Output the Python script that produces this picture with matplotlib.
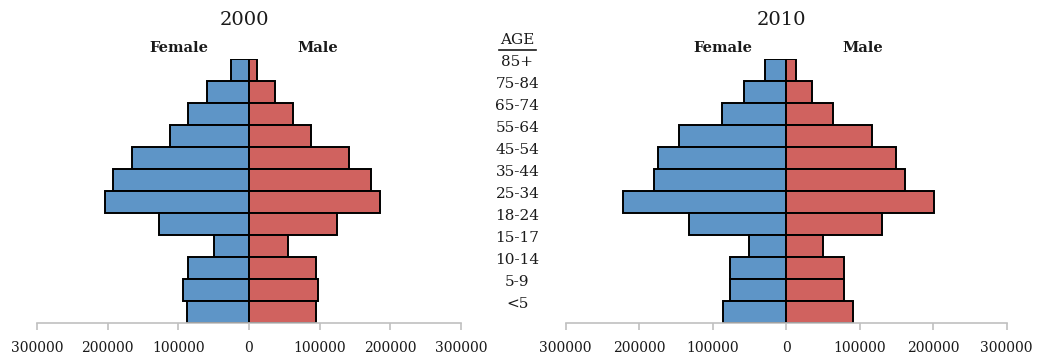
import matplotlib
matplotlib.use("Agg")
import numpy as np
from matplotlib import pyplot as plt
from matplotlib.lines import Line2D
from matplotlib.transforms import blended_transform_factory

AGE_GROUPS = ["85+", "75-84", "65-74", "55-64", "45-54", "35-44",
              "25-34", "18-24", "15-17", "10-14", "5-9", "<5"]

FEMALE_2000 = [26000, 60000, 87000, 112000, 165000, 193000,
               204000, 127000, 50000, 87000, 93000, 88000]
MALE_2000 = [11000, 37000, 62000, 88000, 141000, 173000,
             185000, 125000, 55000, 95000, 97000, 95000]

FEMALE_2010 = [29000, 58000, 88000, 146000, 175000, 180000,
               222000, 132000, 51000, 77000, 77000, 86000]
MALE_2010 = [13000, 35000, 63000, 117000, 149000, 162000,
             201000, 131000, 50000, 79000, 79000, 91000]

TICKS = [-300000, -200000, -100000, 0, 100000, 200000, 300000]
TICK_LABELS = ["300000", "200000", "100000", "0", "100000", "200000", "300000"]

BLUE = "#5e95c7"
RED = "#d0625f"
FONT = "DejaVu Serif"
TEXT_COLOR = "#1a1a1a"


def draw_pyramid(ax, female, male):
    y = np.arange(len(AGE_GROUPS))[::-1]
    ax.barh(y, -np.array(female), height=1.0, color=BLUE,
            edgecolor="black", linewidth=1.4)
    ax.barh(y, male, height=1.0, color=RED,
            edgecolor="black", linewidth=1.4)
    ax.set_xlim(-300000, 300000)
    ax.set_ylim(-0.5, len(AGE_GROUPS) - 0.5)
    ax.set_xticks(TICKS)
    ax.set_xticklabels(TICK_LABELS, fontfamily=FONT, fontsize=10,
                       color=TEXT_COLOR)
    ax.set_yticks([])
    for side in ["top", "left", "right"]:
        ax.spines[side].set_visible(False)
    ax.spines["bottom"].set_color("#c0c0c0")
    ax.spines["bottom"].set_linewidth(1.2)
    ax.tick_params(axis="x", direction="out", length=5, width=1.2,
                   color="#c0c0c0", pad=8)


fig = plt.figure(figsize=(10.39, 3.55), dpi=100)
ax1 = fig.add_axes([0.0356, 0.090, 0.4081, 0.744])
ax2 = fig.add_axes([0.5445, 0.090, 0.4244, 0.744])

draw_pyramid(ax1, FEMALE_2000, MALE_2000)
draw_pyramid(ax2, FEMALE_2010, MALE_2010)

# titles and sex labels
fig.text(0.235, 0.943, "2000", ha="center", va="center",
         fontfamily=FONT, fontsize=14, color=TEXT_COLOR)
fig.text(0.752, 0.943, "2010", ha="center", va="center",
         fontfamily=FONT, fontsize=14, color=TEXT_COLOR)
for xf, xm in [(0.172, 0.306), (0.696, 0.830)]:
    fig.text(xf, 0.866, "Female", ha="center", va="center",
             fontfamily=FONT, fontsize=10.5, fontweight="semibold",
             color=TEXT_COLOR)
    fig.text(xm, 0.866, "Male", ha="center", va="center",
             fontfamily=FONT, fontsize=10.5, fontweight="semibold",
             color=TEXT_COLOR)

# age labels in the middle
trans = blended_transform_factory(fig.transFigure, ax1.transData)
for i, label in enumerate(AGE_GROUPS):
    fig.text(0.498, len(AGE_GROUPS) - 1 - i + 0.36, label, transform=trans,
             ha="center", va="center", fontfamily=FONT, fontsize=11,
             color=TEXT_COLOR)
fig.text(0.498, 0.887, "AGE", ha="center", va="center",
         fontfamily=FONT, fontsize=11, color=TEXT_COLOR)
fig.add_artist(Line2D([0.480, 0.516], [0.858, 0.858], color=TEXT_COLOR,
                      linewidth=1.2, transform=fig.transFigure))

fig.savefig("out.png", dpi=100)
